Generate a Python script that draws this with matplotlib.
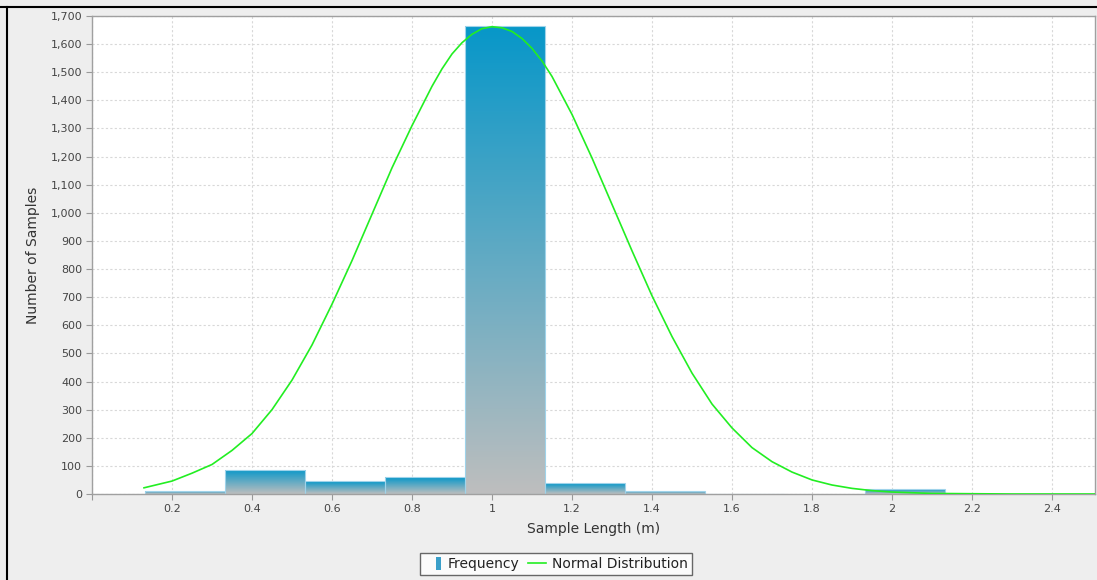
import numpy as np
import matplotlib
matplotlib.use('Agg')
import matplotlib.pyplot as plt
from matplotlib.colors import LinearSegmentedColormap
from matplotlib.patches import Rectangle, Patch
from matplotlib.lines import Line2D
from matplotlib.legend_handler import HandlerPatch
from matplotlib.ticker import FuncFormatter, MultipleLocator

# histogram bins (left edges) and counts
bin_left = [0.133, 0.333, 0.533, 0.733, 0.933, 1.133, 1.333, 1.533, 1.733, 1.933, 2.133, 2.333]
counts = [11, 86, 45, 59, 1664, 38, 11, 1, 0, 17, 0, 0]
bin_width = 0.2

# normal distribution curve
curve_x = [0.13, 0.2, 0.25, 0.3, 0.35, 0.4, 0.45, 0.5, 0.55, 0.6, 0.65, 0.7, 0.75, 0.8,
           0.85, 0.875, 0.9, 0.925, 0.95, 0.975, 1.0, 1.025, 1.05, 1.075, 1.1, 1.125,
           1.15, 1.2, 1.25, 1.3, 1.35, 1.4, 1.45, 1.5,
           1.55, 1.6, 1.65, 1.7, 1.75, 1.8, 1.85, 1.9, 1.95, 2.0, 2.1, 2.2, 2.3, 2.4, 2.51]
curve_y = [22, 46, 74, 105, 155, 215, 300, 405, 530, 675, 830, 995, 1160, 1310,
           1450, 1512, 1565, 1605, 1635, 1655, 1662, 1658, 1645, 1620, 1585, 1540,
           1485, 1350, 1195, 1030, 865, 705, 560, 430,
           320, 235, 165, 115, 78, 50, 32, 20, 12, 7, 2, 1, 0, 0, 0]

plt.rcParams['font.family'] = ['DejaVu Sans']

fig = plt.figure(figsize=(10.97, 5.8), dpi=100)
fig.patch.set_facecolor('#eeeeee')
ax = fig.add_axes([92/1097, 1-494/580, 1003/1097, 478/580])
ax.set_facecolor('white')

# gradient bars: blue at the top fading to grey at the bottom
cmap = LinearSegmentedColormap.from_list('bar', ['#bebebe', '#0797c9'])
grad = np.linspace(0, 1, 256).reshape(-1, 1)
bars = ax.bar(bin_left, counts, width=bin_width, align='edge', color='none',
              edgecolor='none', zorder=2)
for b in bars:
    x, y = b.get_x(), b.get_y()
    w, h = b.get_width(), b.get_height()
    if h <= 0:
        continue
    im = ax.imshow(grad, extent=[x, x + w, 0, h], origin='lower', aspect='auto',
                   cmap=cmap, zorder=2, interpolation='bilinear')
    im.set_clip_path(b)
    ax.add_patch(Rectangle((x, 0), w, h, fill=False, edgecolor='#9fd3ea',
                           linewidth=0.8, zorder=2.5))

ax.plot(curve_x, curve_y, color='#22ee22', linewidth=1.2, zorder=3)

ax.set_xlim(0, 2.5075)
ax.set_ylim(0, 1700)
ax.xaxis.set_major_locator(MultipleLocator(0.2))
ax.yaxis.set_major_locator(MultipleLocator(100))
ax.xaxis.set_major_formatter(FuncFormatter(lambda v, p: ('%g' % round(v, 2)) if v > 0.01 else ''))
ax.yaxis.set_major_formatter(FuncFormatter(lambda v, p: '{:,.0f}'.format(v)))
ax.tick_params(axis='both', labelsize=8, colors='#444444', length=4, width=0.8,
               direction='out', pad=3)
ax.tick_params(axis='both', color='#999999')
ax.grid(True, color='#d8d8d8', linestyle=(0, (2, 2)), linewidth=0.8, zorder=0)
ax.set_axisbelow(True)
for s in ax.spines.values():
    s.set_color('#a0a0a0')
    s.set_linewidth(1)

ax.set_xlabel('Sample Length (m)', fontsize=10, color='#333333', labelpad=6)
ax.set_ylabel('Number of Samples', fontsize=10, color='#333333', labelpad=8)


def narrow_box(legend, orig_handle, xdescent, ydescent, width, height, fontsize):
    bw = height * 0.5
    return Rectangle((-xdescent + width - bw - 1, -ydescent - 1), bw, height + 2)


handles = [Patch(facecolor='#3a9fc9', edgecolor='none'),
           Line2D([], [], color='#22ee22', linewidth=1.2)]
leg = fig.legend(handles, ['Frequency', 'Normal Distribution'], loc='upper center',
                 bbox_to_anchor=(556/1097, 1-553/580), ncol=2, fontsize=10,
                 frameon=True, fancybox=False, handlelength=1.3, handletextpad=0.4,
                 columnspacing=0.6, borderpad=0.3, borderaxespad=0,
                 handler_map={Patch: HandlerPatch(patch_func=narrow_box)})
leg.get_frame().set_edgecolor('#444444')
leg.get_frame().set_linewidth(1)
for t in leg.get_texts():
    t.set_color('#222222')

# window border from the original screenshot
fig.add_artist(Line2D([0, 1], [1-7/580, 1-7/580], transform=fig.transFigure,
                      color='black', linewidth=1.5))
fig.add_artist(Line2D([7/1097, 7/1097], [0, 1-7/580], transform=fig.transFigure,
                      color='black', linewidth=1.5))

fig.savefig('out.png', dpi=100, facecolor=fig.get_facecolor())
